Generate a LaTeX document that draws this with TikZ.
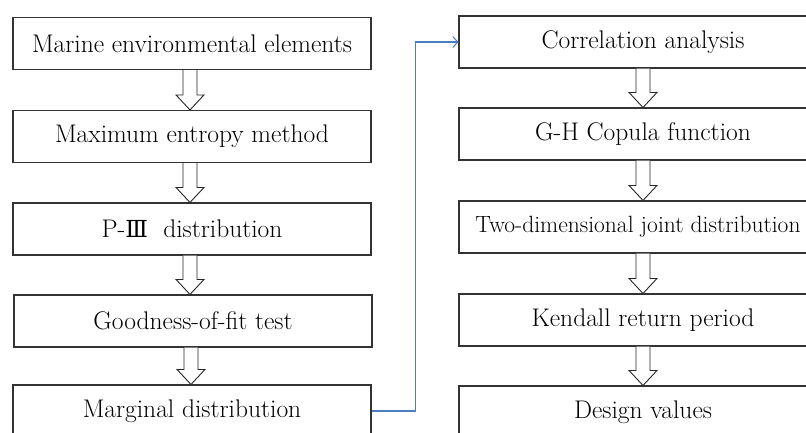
\documentclass[tikz,border=0pt]{standalone}
\usepackage{fontspec}
\newfontfamily\numeralfont[Scale=0.92]{DejaVu Serif}
\usetikzlibrary{arrows.meta,calc}
\definecolor{linkblue}{RGB}{74,126,193}
\begin{document}
\begin{tikzpicture}[x=1pt,y=-1pt,
  stepbox/.style={draw=black!80,line width=1.1pt,fill=white,
    minimum height=52pt,inner sep=0pt,text=black,
    font=\fontsize{25.5}{30}\selectfont},
  leftbox/.style={stepbox,minimum width=358pt},
  rightbox/.style={stepbox,minimum width=368pt},
  hollow/.style={draw=black!85,line width=0.9pt,fill=white,line join=miter},
  link/.style={draw=linkblue,line width=1.1pt,
    -{Straight Barb[length=5pt,width=11pt,line width=1pt]}}]
\useasboundingbox (0,0) rectangle (806,432);
\clip (0,0) rectangle (806,432);

% left column
\node[leftbox] (l1) at (192,43.5) {Marine environmental elements};
\node[leftbox] (l2) at (192,136.5) {Maximum entropy method};
\node[leftbox] (l3) at (192,229) {P-{\numeralfont Ⅲ}\ \ distribution};
\node[leftbox] (l4) at (193,321) {Goodness-of-fit test};
\node[leftbox] (l5) at (192,411) {Marginal distribution};

% right column
\node[rightbox] (r1) at (643,42) {Correlation analysis};
\node[rightbox] (r2) at (643,134) {G-H Copula function};
\node[rightbox,minimum width=358pt,font=\fontsize{23.5}{28}\selectfont]
  (r3) at (638,227) {Two-dimensional joint distribution};
\node[rightbox] (r4) at (643,320) {Kendall return period};
\node[rightbox] (r5) at (643,412) {Design values};

% hollow block arrows between consecutive steps
\newcommand\blockarrow[3]{%
  \draw[hollow]
    ($(#1.south -| #3,0)+(-7,0)$) -- ($(#2.north -| #3,0)+(-7,-15)$)
    -- ($(#2.north -| #3,0)+(-14,-15)$) -- (#2.north -| #3,0)
    -- ($(#2.north -| #3,0)+(14,-15)$) -- ($(#2.north -| #3,0)+(7,-15)$)
    -- ($(#1.south -| #3,0)+(7,0)$);}
\blockarrow{l1}{l2}{190}
\blockarrow{l2}{l3}{190}
\blockarrow{l3}{l4}{190}
\blockarrow{l4}{l5}{191}
\blockarrow{r1}{r2}{643}
\blockarrow{r2}{r3}{643}
\blockarrow{r3}{r4}{643}
\blockarrow{r4}{r5}{643}

% link from the marginal distribution to the correlation analysis
\draw[link] (l5.east) -- ++(44,0) |- (r1.west);
\end{tikzpicture}
\end{document}
